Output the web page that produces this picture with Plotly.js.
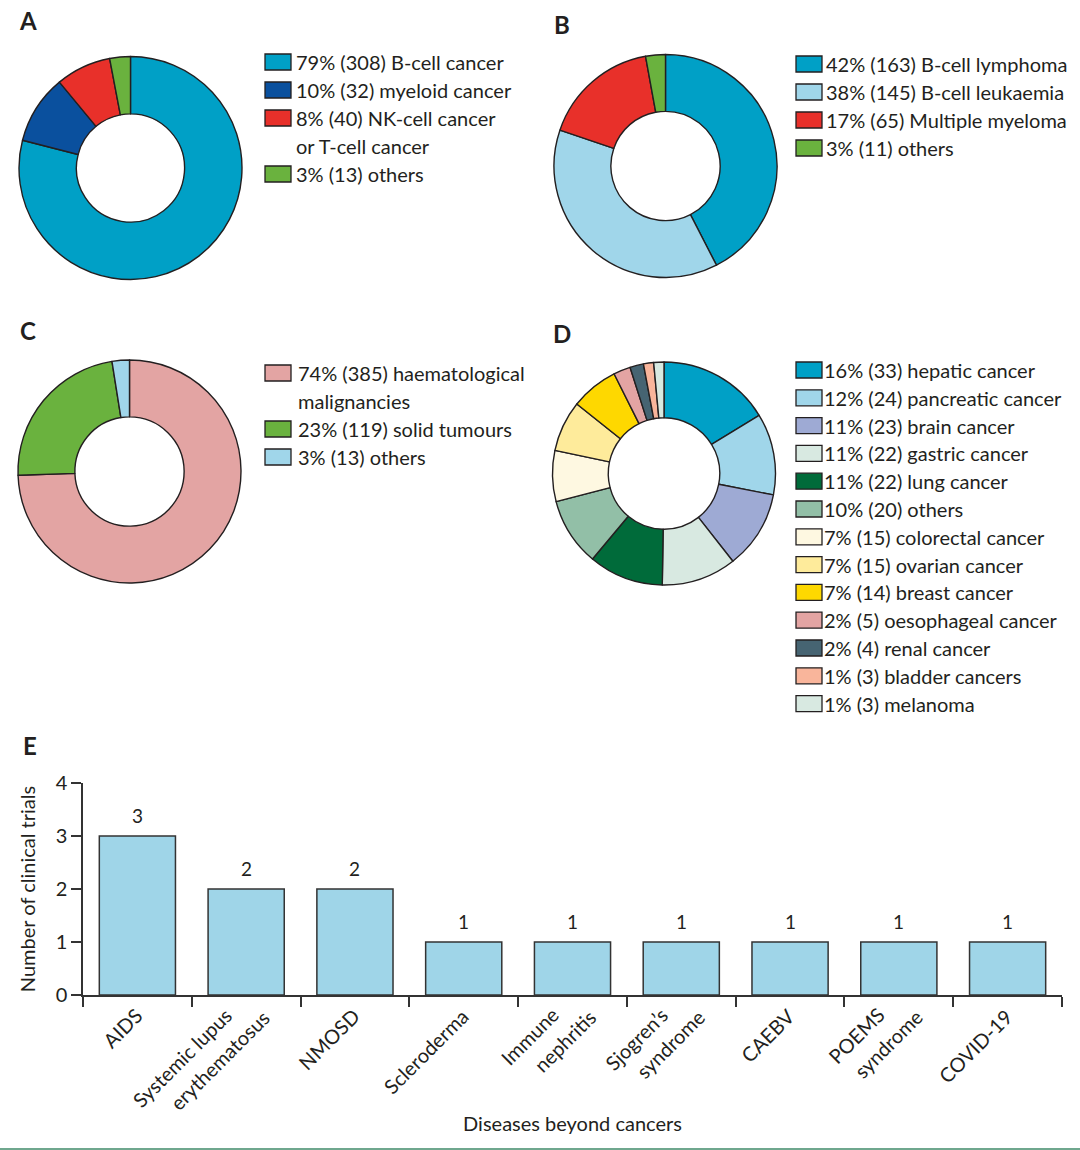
<!DOCTYPE html>
<html>
<head>
<meta charset="utf-8">
<script src="https://cdn.plot.ly/plotly-3.0.1.min.js"></script>
<style>html,body{margin:0;padding:0;background:#fff;}#chart{width:1080px;height:1150px;}</style>
</head>
<body>
<div id="chart"></div>
<script>
// ---------- DATA ----------
// Panel A
const aNames = ["B-cell cancer", "myeloid cancer", "NK-cell cancer\nor T-cell cancer", "others"];
const aPct = [79, 10, 8, 3];
const aCount = [308, 32, 40, 13];
const aColors = ["#00a0c6", "#0a509e", "#e8302a", "#6ab23e"];
// Panel B
const bNames = ["B-cell lymphoma", "B-cell leukaemia", "Multiple myeloma", "others"];
const bPct = [42, 38, 17, 3];
const bCount = [163, 145, 65, 11];
const bColors = ["#00a0c6", "#a0d6ea", "#e8302a", "#6ab23e"];
// Panel C
const cNames = ["haematological\nmalignancies", "solid tumours", "others"];
const cPct = [74, 23, 3];
const cCount = [385, 119, 13];
const cColors = ["#e3a4a3", "#6ab23e", "#a0d6ea"];
// Panel D
const dNames = ["hepatic cancer", "pancreatic cancer", "brain cancer", "gastric cancer", "lung cancer", "others",
  "colorectal cancer", "ovarian cancer", "breast cancer", "oesophageal cancer", "renal cancer", "bladder cancers", "melanoma"];
const dPct = [16, 12, 11, 11, 11, 10, 7, 7, 7, 2, 2, 1, 1];
const dCount = [33, 24, 23, 22, 22, 20, 15, 15, 14, 5, 4, 3, 3];
const dColors = ["#00a0c6", "#a0d6ea", "#9eaad4", "#d8e9e1", "#006b3a", "#92bfa7",
  "#fef8e1", "#feeb9b", "#fed800", "#e3a4a3", "#466472", "#f9b59b", "#d8e9e1"];
// Panel E
const eLabels = ["AIDS", "Systemic lupus\nerythematosus", "NMOSD", "Scleroderma", "Immune\nnephritis",
  "Sjogren’s\nsyndrome", "CAEBV", "POEMS\nsyndrome", "COVID-19"];
const eVals = [3, 2, 2, 1, 1, 1, 1, 1, 1];
const eCats = eLabels.map(s => s.replace("\n", " "));

// ---------- LAYOUT HELPERS ----------
const W = 1080, H = 1150;
const FONT = "Lato, 'Open Sans', sans-serif";
const TXT = "#231f20";
const px = x => x / W;
const py = y => 1 - y / H;
const dom = (cx, cy, r) => ({x: [px(cx - r), px(cx + r)], y: [py(cy + r), py(cy - r)]});

function pie(names, values, colors, d, hole) {
  return {
    type: "pie", labels: names.map(n => n.replace("\n", " ")), values: values,
    marker: {colors: colors, line: {color: "#231f20", width: 1.4}},
    hole: hole, sort: false, direction: "clockwise", rotation: 0,
    textinfo: "none", hoverinfo: "label+percent", showlegend: false, domain: d
  };
}

const traces = [
  pie(aNames, aPct, aColors, dom(130.5, 168, 111.5), 0.485),
  pie(bNames, bCount, bColors, dom(665.5, 166, 111.5), 0.49),
  pie(cNames, cCount, cColors, dom(129.5, 471.5, 111.5), 0.49),
  pie(dNames, dCount, dColors, dom(664, 473.5, 111.5), 0.5),
  {
    type: "bar", x: eCats, y: eVals, xaxis: "x", yaxis: "y",
    marker: {color: "#9fd5e8", line: {color: "#333333", width: 1.5}},
    hoverinfo: "x+y", showlegend: false
  }
];

const shapes = [];
const annotations = [];

function legend(names, pct, count, colors, swX, txtX, y0, step) {
  let row = 0;
  names.forEach((n, i) => {
    const lines = n.split("\n");
    const yc = y0 + row * step;
    shapes.push({type: "rect", xref: "paper", yref: "paper",
      x0: px(swX), x1: px(swX + 26), y0: py(yc + 8), y1: py(yc - 8),
      fillcolor: colors[i], line: {color: "#231f20", width: 1.3}});
    lines.forEach((l, k) => {
      const t = (k === 0 ? pct[i] + "% (" + count[i] + ") " : "") + l;
      annotations.push({xref: "paper", yref: "paper", x: px(txtX), y: py(yc + k * step),
        xanchor: "left", yanchor: "middle", text: t, showarrow: false,
        font: {family: FONT, size: 20, color: TXT}});
    });
    row += lines.length;
  });
}
legend(aNames, aPct, aCount, aColors, 265, 294, 62, 28);
legend(bNames, bPct, bCount, bColors, 796, 824, 64, 28);
legend(cNames, cPct, cCount, cColors, 265, 296, 373, 28);
legend(dNames, dPct, dCount, dColors, 796, 822, 370, 27.8);

// panel letters
[["A", 28, 20], ["B", 562, 24], ["C", 28, 330], ["D", 562, 333], ["E", 30, 745]].forEach(p => {
  annotations.push({xref: "paper", yref: "paper", x: px(p[1]), y: py(p[2]), xanchor: "center", yanchor: "middle",
    text: "<b>" + p[0] + "</b>", showarrow: false, font: {family: FONT, size: 24, color: TXT}});
});

// bar value labels
eCats.forEach((c, i) => {
  annotations.push({xref: "x", yref: "y", x: c, y: eVals[i], yanchor: "bottom", yshift: 7,
    text: String(eVals[i]), showarrow: false, font: {family: FONT, size: 19, color: TXT}});
});

// rotated category labels (one text line each, placed at the category position)
eLabels.forEach((lab, i) => {
  const lines = lab.split("\n");
  const n = lines.length;
  lines.forEach((l, k) => {
    const d = k - (n - 1) / 2;
    annotations.push({xref: "x", yref: "paper", x: eCats[i], y: py(1001 + 2.5 * d),
      xanchor: "right", yanchor: "top", xshift: 12 + 37 * d, textangle: -45,
      text: l, showarrow: false, font: {family: FONT, size: 20, color: TXT}});
  });
});

// bottom rule
shapes.push({type: "line", xref: "paper", yref: "paper", x0: 0, x1: 1, y0: py(1149), y1: py(1149),
  line: {color: "#3f8a68", width: 1.5}});

const layout = {
  width: W, height: H,
  margin: {l: 0, r: 0, t: 0, b: 0, pad: 0},
  paper_bgcolor: "#ffffff", plot_bgcolor: "#ffffff",
  font: {family: FONT, size: 19, color: TXT},
  bargap: 0.3,
  xaxis: {
    domain: [px(83), px(1062)], anchor: "y",
    range: [-0.5, 8.5], type: "category",
    showline: true, linecolor: "#333333", linewidth: 1.5,
    ticks: "outside", tickson: "boundaries", ticklen: 10, tickwidth: 1.5, tickcolor: "#333333",
    showticklabels: false, showgrid: false, zeroline: false,
    title: {text: "Diseases beyond cancers", standoff: 121, font: {family: FONT, size: 20, color: TXT}}
  },
  yaxis: {
    domain: [py(995), py(783)], anchor: "x",
    range: [0, 4], dtick: 1, tick0: 0,
    showline: true, linecolor: "#333333", linewidth: 1.5,
    ticks: "outside", ticklen: 10, tickwidth: 1.5, tickcolor: "#333333",
    showgrid: false, zeroline: false,
    tickfont: {family: FONT, size: 20, color: TXT},
    title: {text: "Number of clinical trials", standoff: 15, font: {family: FONT, size: 20, color: TXT}}
  },
  shapes: shapes,
  annotations: annotations
};

Plotly.newPlot("chart", traces, layout, {displayModeBar: false});
</script>
</body>
</html>
